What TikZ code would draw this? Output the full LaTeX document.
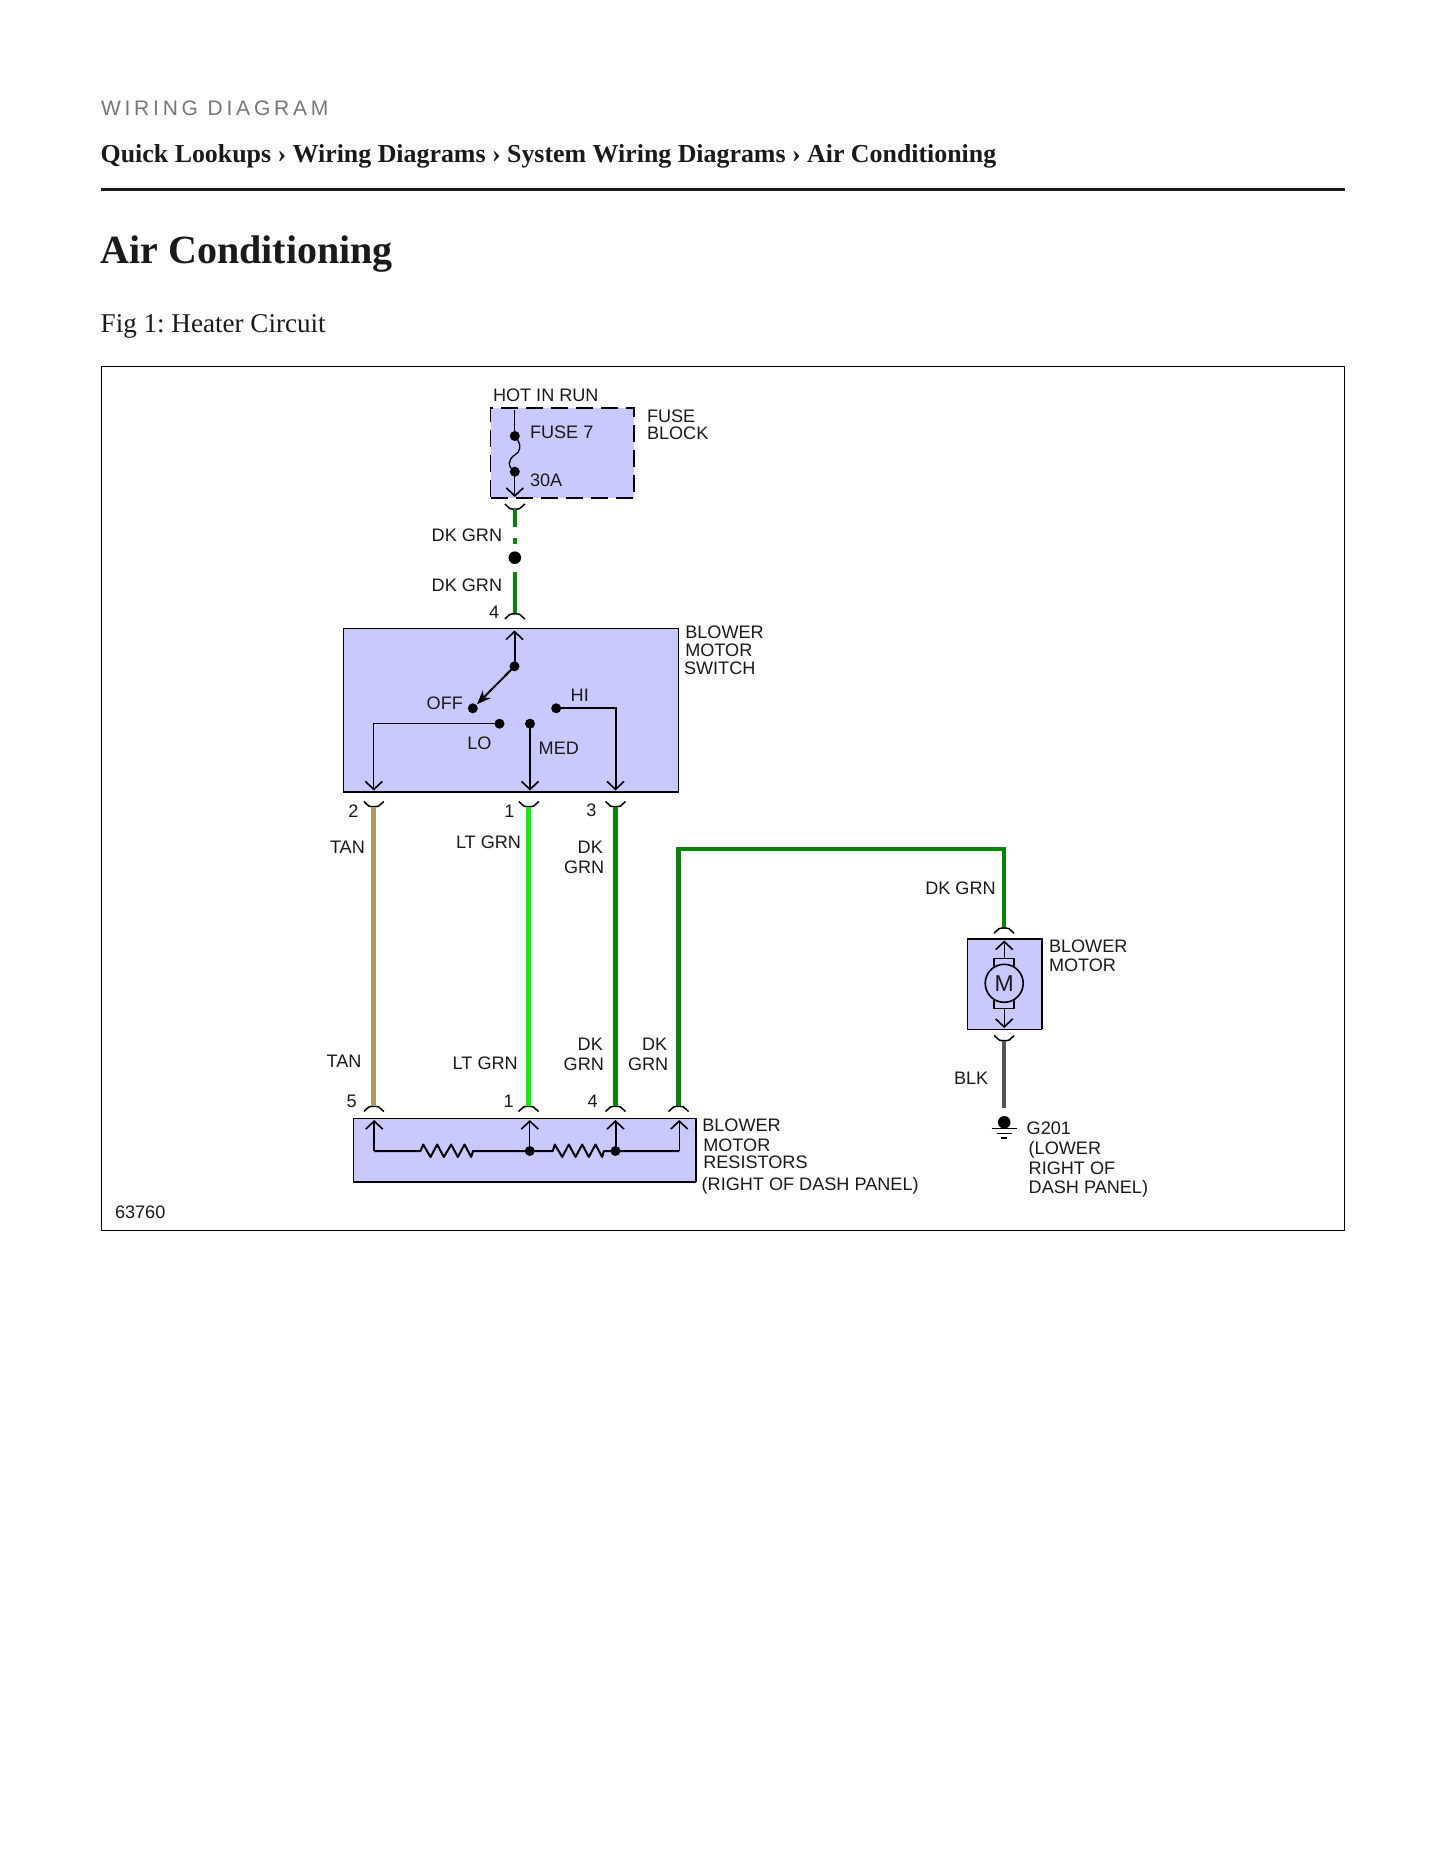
\documentclass[tikz,border=0pt]{standalone}
\usepackage{fontspec}
\setmainfont{Liberation Serif}
\newfontfamily\arialf{Liberation Sans}
\usetikzlibrary{arrows.meta}
\definecolor{boxfill}{HTML}{C9C9FF}
\definecolor{dkgrn}{HTML}{0B800B}
\definecolor{ltgrn}{HTML}{12EE12}
\definecolor{tanw}{HTML}{A89A62}
\definecolor{blkw}{HTML}{555555}
\definecolor{ink}{HTML}{1A1A1A}
\definecolor{eyebrow}{HTML}{777777}
\frenchspacing
\tikzset{
  lab/.style={inner sep=0pt,outer sep=0pt,anchor=base west,text=ink,yshift=-0.8pt,font=\arialf\fontsize{18.1}{20}\selectfont},
  head/.style={inner sep=0pt,outer sep=0pt,anchor=base west,text=ink},
  devbox/.style={draw=black,fill=boxfill,line width=1.3pt,inner sep=0pt,outer sep=0pt},
  dot/.style={circle,fill=black,inner sep=0pt,outer sep=0pt,minimum size=10pt},
  bigdot/.style={circle,fill=black,inner sep=0pt,outer sep=0pt,minimum size=12.6pt},
  wire/.style={line width=4.5pt},
  thin line/.style={line width=1.3pt},
  mid line/.style={line width=2pt},
  barb/.style={-{Straight Barb[length=8pt,width=17pt,line width=1.6pt]}},
  cuptop/.pic={\draw[line width=1.5pt] (-10,5.5) -- (-5,1) .. controls (-2,0) and (2,0) .. (5,1) -- (10,5.5);},
  cupbot/.pic={\draw[line width=1.5pt] (-10,0) -- (-5,4.5) .. controls (-2,5.5) and (2,5.5) .. (5,4.5) -- (10,0);},
}
\begin{document}
\begin{tikzpicture}[x=1pt,y=-1pt]
\useasboundingbox (0,0) rectangle (1445,1870);
\fill[white] (0,0) rectangle (1445,1870);

% page header
\node[head,text=eyebrow,font=\arialf\fontsize{21}{23}\selectfont\addfontfeature{LetterSpace=18}] (eyebrowt) at (101,115.3) {WIRING DIAGRAM};
\node[head,font=\bfseries\fontsize{25.88}{28}\selectfont] (crumb) at (100.7,162.7) {Quick Lookups › Wiring Diagrams › System Wiring Diagrams › Air Conditioning};
\coordinate (ruleL) at (101,189.3);
\coordinate (ruleR) at (1344.6,189.3);
\draw[line width=3pt,ink] (ruleL) -- (ruleR);
\node[head,font=\bfseries\fontsize{40}{44}\selectfont] (title) at (100.5,263.7) {Air Conditioning};
\node[head,font=\fontsize{27.1}{29}\selectfont] (figcap) at (100.7,332.3) {Fig 1: Heater Circuit};

% frame
\node[draw=black,line width=1.3pt,inner sep=0pt,outer sep=0pt,minimum width=1243pt,minimum height=864pt] (frame) at (723.2,798.3) {};

\begin{scope}[xshift=0.5pt]
% device boxes
\node[devbox,dash pattern=on 17pt off 8pt,line width=1.6pt,minimum width=143.7pt,minimum height=90.3pt] (fuse) at (561.9,452.9) {};
\node[devbox,minimum width=334.4pt,minimum height=163.3pt] (switch) at (510.5,710.4) {};
\draw[mid line] (switch.south west) -- (switch.south east);
\node[devbox,minimum width=343pt,minimum height=63pt] (resist) at (524.2,1150.2) {};
\draw[mid line] (resist.south west) -- (resist.south east);
\draw[mid line] (resist.north east) -- (resist.south east);
\node[devbox,minimum width=74.6pt,minimum height=90.3pt] (motor) at (1004,984.2) {};
\draw[mid line] (motor.north west) -- (motor.north east) -- (motor.south east);

% fuse internals
\coordinate (fuseIn) at (514.3,410);
\node[dot] (f1) at (514.3,436) {};
\node[dot] (f2) at (514.3,471.7) {};
\coordinate (fuseOut) at (514.3,497);
\draw[thin line] (fuseIn) -- (f1.center);
\draw[thin line] (f1.center) .. controls (522,445) and (520,452) .. (514.3,455) .. controls (508,459) and (506,466) .. (f2.center);
\draw[thin line,barb] (f2.center) -- (fuseOut);

% wire from fuse to switch
\pic at (514.3,504) {cupbot};
\coordinate (w1a) at (514.3,509);
\coordinate (w1b) at (514.3,527);
\coordinate (w1c) at (514.3,538);
\coordinate (w1d) at (514.3,544);
\node[bigdot] (splice) at (514.3,557.7) {};
\coordinate (w2a) at (514.3,572);
\coordinate (w2b) at (514.3,613.5);
\draw[wire,dkgrn] (w1a) -- (w1b);
\draw[wire,dkgrn] (w1c) -- (w1d);
\draw[wire,dkgrn] (w2a) -- (w2b);
\pic at (514.3,613.5) {cuptop};

% switch internals
\coordinate (swTop) at (514,630.5);
\node[dot] (pivot) at (514,666.3) {};
\node[dot] (off) at (472.3,708.3) {};
\node[dot] (lo) at (499,723.7) {};
\node[dot] (med) at (529.5,723.7) {};
\node[dot] (hi) at (555.7,708.3) {};
\coordinate (loC) at (373.3,723.7);
\coordinate (hiC) at (615,708.3);
\coordinate (swB2) at (373.3,790.5);
\coordinate (swB1) at (529.5,790.5);
\coordinate (swB3) at (615,790.5);
\coordinate (offTip) at (476.5,704.2);
\draw[mid line,barb] (pivot.center) -- (swTop);
\draw[line width=2pt,-{Stealth[length=14pt,width=11pt]}] (pivot.center) -- (offTip);
\draw[thin line,barb] (lo.center) -- (loC) -- (swB2);
\draw[mid line,barb] (med.center) -- (swB1);
\draw[mid line,barb] (hi.center) -- (hiC) -- (swB3);

% long wires
\pic at (373.3,801.5) {cupbot};
\pic at (528.3,801.5) {cupbot};
\pic at (615,801.5) {cupbot};
\pic at (373.3,1106) {cuptop};
\pic at (528,1106) {cuptop};
\pic at (615,1106) {cuptop};
\pic at (678,1106) {cuptop};
\coordinate (tanA) at (373.2,807);
\coordinate (tanB) at (373.2,1106);
\coordinate (ltA) at (528,807);
\coordinate (ltB) at (528,1106);
\coordinate (dkA) at (615,807);
\coordinate (dkB) at (615,1106);
\coordinate (dk2A) at (678,1106);
\coordinate (dk2B) at (678,849);
\coordinate (dk2C) at (1003.5,849);
\coordinate (dk2D) at (1003.5,927.7);
\draw[wire,tanw] (tanA) -- (tanB);
\draw[wire,ltgrn] (ltA) -- (ltB);
\draw[wire,dkgrn] (dkA) -- (dkB);
\draw[wire,dkgrn,line join=miter] (dk2A) -- (dk2B) -- (dk2C) -- (dk2D);
\pic at (1003.5,927.7) {cuptop};

% resistor internals
\coordinate (b5) at (373.7,1151);
\coordinate (t5) at (373.7,1120);
\node[dot] (j1) at (529.3,1151) {};
\coordinate (t1) at (529.3,1120);
\node[dot] (j4) at (615,1151) {};
\coordinate (t4) at (615,1120);
\coordinate (b6) at (678.7,1151);
\coordinate (t6) at (678.7,1120);
\draw[mid line,barb] (b5) -- (t5);
\draw[thin line,barb] (j1.center) -- (t1);
\draw[mid line,barb] (j4.center) -- (t4);
\draw[thin line,barb] (b6) -- (t6);
\draw[mid line,line join=round] (b5) -- (420,1151) -- (422.7,1144.5) -- (430,1157) -- (436.7,1144.5) -- (443.3,1157) -- (450.7,1144.5) -- (457.3,1157) -- (464,1144.5) -- (470.7,1157) -- (472.5,1151) -- (j1.center)
  -- (552.3,1151) -- (554.3,1144.5) -- (561.7,1157) -- (568.3,1144.5) -- (575,1157) -- (581.7,1144.5) -- (588.3,1157) -- (595,1144.5) -- (601.7,1157) -- (603.3,1151) -- (j4.center) -- (b6);

% motor
\coordinate (mTopTip) at (1003.7,940.5);
\coordinate (mBotTip) at (1003.7,1028);
\node[draw=black,line width=1.6pt,inner sep=0pt,outer sep=0pt,minimum width=20pt,minimum height=50pt] (brush) at (1003.7,983.3) {};
\node[circle,draw=black,fill=boxfill,line width=1.6pt,inner sep=0pt,outer sep=0pt,minimum size=38pt,text=ink,font=\arialf\fontsize{23}{24}\selectfont] (mcirc) at (1003.7,983.3) {M};
\draw[thin line,barb] (brush.north) -- (mTopTip);
\draw[thin line,barb] (brush.south) -- (mBotTip);
\pic at (1003.7,1035.5) {cupbot};
\coordinate (blkA) at (1003.7,1041);
\coordinate (blkB) at (1003.7,1107.7);
\draw[wire,blkw] (blkA) -- (blkB);
\node[bigdot] (gnd) at (1003.7,1122.3) {};
\coordinate (g1L) at (991,1128.3); \coordinate (g1R) at (1016,1128.3);
\coordinate (g2L) at (996,1133.3); \coordinate (g2R) at (1011,1133.3);
\coordinate (g3L) at (1000.7,1138); \coordinate (g3R) at (1006,1138);
\draw[thin line] (g1L) -- (g1R);
\draw[thin line] (g2L) -- (g2R);
\draw[thin line] (g3L) -- (g3R);
\end{scope}

% labels
\node[lab] (l01) at (493,401) {HOT IN RUN};
\node[lab] (l02) at (647,421.7) {FUSE};
\node[lab] (l03) at (647,438.7) {BLOCK};
\node[lab] (l04) at (530,438) {FUSE 7};
\node[lab] (l05) at (530,485.3) {30A};
\node[lab] (l06) at (431.7,541) {DK GRN};
\node[lab] (l07) at (431.7,591) {DK GRN};
\node[lab] (l08) at (489,617.3) {4};
\node[lab] (l09) at (685.3,638) {BLOWER};
\node[lab] (l10) at (685.3,656) {MOTOR};
\node[lab] (l11) at (684,673.7) {SWITCH};
\node[lab] (l12) at (426.7,708.7) {OFF};
\node[lab] (l13) at (570.7,700.3) {HI};
\node[lab] (l14) at (467.3,748.3) {LO};
\node[lab] (l15) at (538.7,754) {MED};
\node[lab] (l16) at (348.3,816.7) {2};
\node[lab] (l17) at (504.3,816.7) {1};
\node[lab] (l18) at (586.3,815.7) {3};
\node[lab] (l19) at (330,852.7) {TAN};
\node[lab] (l20) at (456,848) {LT GRN};
\node[lab] (l21) at (577.7,852.7) {DK};
\node[lab] (l22) at (564,873) {GRN};
\node[lab] (l23) at (925.3,894) {DK GRN};
\node[lab] (l24) at (1049,951.2) {BLOWER};
\node[lab] (l25) at (1049,970.7) {MOTOR};
\node[lab] (l26) at (326.7,1067) {TAN};
\node[lab] (l27) at (452.7,1068.3) {LT GRN};
\node[lab] (l28) at (577.7,1050) {DK};
\node[lab] (l29) at (563.7,1070) {GRN};
\node[lab] (l30) at (642,1050) {DK};
\node[lab] (l31) at (628,1070) {GRN};
\node[lab] (l32) at (346.7,1107) {5};
\node[lab] (l33) at (503.7,1107) {1};
\node[lab] (l34) at (587.7,1107) {4};
\node[lab] (l35) at (702.3,1131) {BLOWER};
\node[lab] (l36) at (703.3,1151) {MOTOR};
\node[lab] (l37) at (703.3,1167.7) {RESISTORS};
\node[lab] (l38) at (701.7,1190) {(RIGHT OF DASH PANEL)};
\node[lab] (l39) at (954,1083.7) {BLK};
\node[lab] (l40) at (1026.7,1133.6) {G201};
\node[lab] (l41) at (1028.7,1154) {(LOWER};
\node[lab] (l42) at (1028.7,1173.7) {RIGHT OF};
\node[lab] (l43) at (1028.7,1192.7) {DASH PANEL)};
\node[lab] (l44) at (115,1217.3) {63760};
\end{tikzpicture}
\end{document}
